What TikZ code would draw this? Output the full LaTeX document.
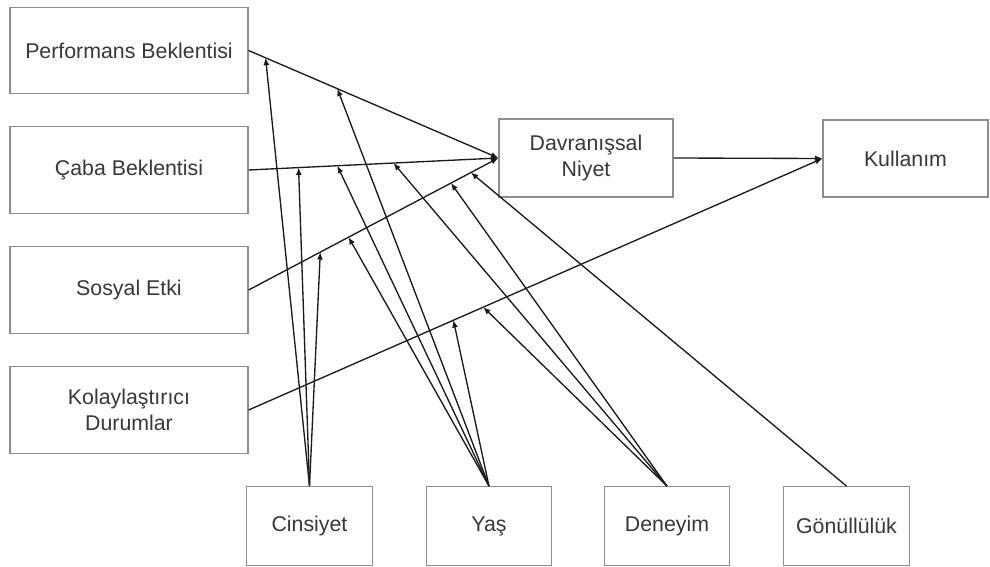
\documentclass[tikz,border=0pt]{standalone}
\usepackage{fontspec}
\setmainfont{Liberation Sans}
\usetikzlibrary{arrows.meta}
\definecolor{boxline}{HTML}{8E8E8E}
\definecolor{txt}{HTML}{383838}
\definecolor{wire}{HTML}{1A1A1A}
\begin{document}
\begin{tikzpicture}[x=0.75pt,y=-0.75pt,
  box/.style={draw=boxline, line width=0.9pt, fill=white, inner sep=0pt,
    align=center, text=txt, font=\fontsize{16}{19.5}\selectfont},
  factor/.style={box, minimum width=178.5pt, minimum height=65pt},
  modbox/.style={box, minimum width=94pt, minimum height=59pt},
  link/.style={draw=wire, line width=1pt, -{Latex[length=5.5pt,width=4.5pt]}}
]
\useasboundingbox (0,0) rectangle (990,567);

% determinants
\node[factor] (pb) at (129,50.5) {Performans Beklentisi};
\node[factor] (cb) at (129,170) {Çaba Beklentisi};
\node[factor] (se) at (129,290) {Sosyal Etki};
\node[factor] (kd) at (129,410) {Kolaylaştırıcı\\Durumlar};

% intention and use
\node[box, minimum width=130.5pt, minimum height=58.5pt] (dn) at (586,158) {Davranışsal\\Niyet};
\node[box, minimum width=123.75pt, minimum height=57.75pt] (ku) at (905.5,158.5) {Kullanım};

% moderators
\node[modbox] (cin) at (309.5,526) {Cinsiyet};
\node[modbox] (yas) at (489,526) {Yaş};
\node[modbox] (den) at (667,526) {Deneyim};
\node[modbox] (gon) at (846.5,526) {Gönüllülük};

% main paths, with the points where moderators attach
\draw[link] (pb.east) -- (dn.west)
  coordinate[pos=0.068] (pb-g) coordinate[pos=0.355] (pb-a);
\draw[link] (cb.east) -- (dn.west)
  coordinate[pos=0.2] (cb-g) coordinate[pos=0.355] (cb-a) coordinate[pos=0.58] (cb-e);
\draw[link] (se.east) -- (dn.west)
  coordinate[pos=0.287] (se-g) coordinate[pos=0.40] (se-a)
  coordinate[pos=0.81] (se-e) coordinate[pos=0.89] (se-v);
\draw[link] (kd.east) -- (ku.west)
  coordinate[pos=0.357] (kd-a) coordinate[pos=0.409] (kd-e);
\draw[link] (dn.east) -- (ku.west);

% gender
\draw[link] (cin.north) -- (pb-g);
\draw[link] (cin.north) -- (cb-g);
\draw[link] (cin.north) -- (se-g);
% age
\draw[link] (yas.north) -- (pb-a);
\draw[link] (yas.north) -- (cb-a);
\draw[link] (yas.north) -- (se-a);
\draw[link] (yas.north) -- (kd-a);
% experience
\draw[link] (den.north) -- (cb-e);
\draw[link] (den.north) -- (se-e);
\draw[link] (den.north) -- (kd-e);
% voluntariness
\draw[link] (gon.north) -- (se-v);
\end{tikzpicture}
\end{document}
